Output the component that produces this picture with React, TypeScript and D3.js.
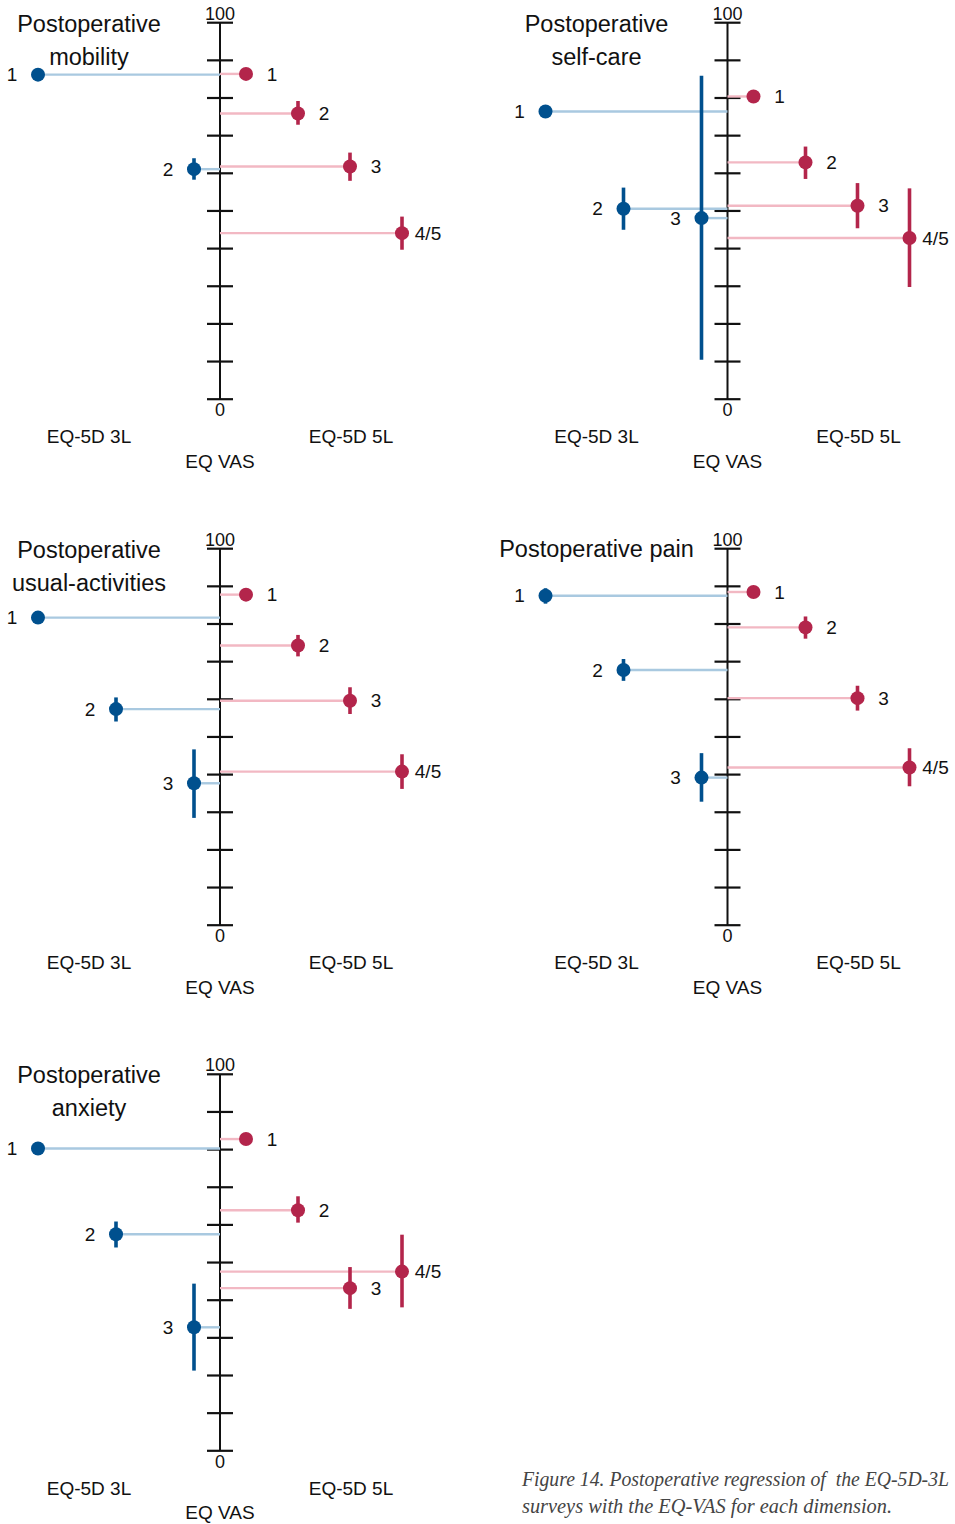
import * as d3 from 'd3'

// ── data ───────────────────────────────────────────────────────────────────
const TITLES = [
  ['Postoperative', 'mobility'],
  ['Postoperative', 'self-care'],
  ['Postoperative', 'usual-activities'],
  ['Postoperative pain'],
  ['Postoperative', 'anxiety'],
]

const LEVELS_3L_MOBILITY = ['1', '2']
const LEVELS_3L = ['1', '2', '3']
const LEVELS_5L = ['1', '2', '3', '4/5']

const MOBILITY_3L = [86.2, 61.1]
const MOBILITY_3L_LO = [85.0, 58.3]
const MOBILITY_3L_HI = [87.4, 64.0]
const MOBILITY_5L = [86.4, 75.9, 61.8, 44.1]
const MOBILITY_5L_LO = [85.2, 72.9, 58.0, 39.7]
const MOBILITY_5L_HI = [87.6, 79.2, 65.5, 48.5]

const SELFCARE_3L = [76.4, 50.6, 48.1]
const SELFCARE_3L_LO = [75.2, 45.0, 10.5]
const SELFCARE_3L_HI = [77.6, 56.2, 85.9]
const SELFCARE_5L = [80.4, 62.9, 51.4, 42.8]
const SELFCARE_5L_LO = [79.2, 58.5, 45.4, 29.8]
const SELFCARE_5L_HI = [81.6, 67.1, 57.4, 56.0]

const USUAL_3L = [81.7, 57.4, 37.7]
const USUAL_3L_LO = [80.5, 54.1, 28.5]
const USUAL_3L_HI = [82.9, 60.5, 46.7]
const USUAL_5L = [87.8, 74.3, 59.6, 40.8]
const USUAL_5L_LO = [86.6, 71.4, 56.1, 36.2]
const USUAL_5L_HI = [89.0, 77.1, 63.2, 45.4]

const PAIN_3L = [87.5, 67.8, 39.2]
const PAIN_3L_LO = [85.4, 64.9, 32.8]
const PAIN_3L_HI = [89.5, 70.7, 45.7]
const PAIN_5L = [88.5, 79.1, 60.3, 41.9]
const PAIN_5L_LO = [87.3, 76.1, 57.0, 36.9]
const PAIN_5L_HI = [89.7, 82.0, 63.6, 47.0]

const ANXIETY_3L = [80.3, 57.5, 32.8]
const ANXIETY_3L_LO = [79.1, 54.0, 21.3]
const ANXIETY_3L_HI = [81.5, 60.9, 44.4]
const ANXIETY_5L = [82.8, 63.9, 43.2, 47.6]
const ANXIETY_5L_LO = [81.6, 60.6, 37.7, 38.1]
const ANXIETY_5L_HI = [84.0, 67.6, 48.8, 57.4]

const VAS_TICKS = d3.range(0, 101, 10)
const CAPTION = ['Figure 14. Postoperative regression of  the EQ-5D-3L', 'surveys with the EQ-VAS for each dimension.']

interface Series { levels: string[]; mean: number[]; lo: number[]; hi: number[] }
interface Panel { title: string[]; s3: Series; s5: Series }

const PANELS: Panel[] = [
  { title: TITLES[0],
    s3: { levels: LEVELS_3L_MOBILITY, mean: MOBILITY_3L, lo: MOBILITY_3L_LO, hi: MOBILITY_3L_HI },
    s5: { levels: LEVELS_5L, mean: MOBILITY_5L, lo: MOBILITY_5L_LO, hi: MOBILITY_5L_HI } },
  { title: TITLES[1],
    s3: { levels: LEVELS_3L, mean: SELFCARE_3L, lo: SELFCARE_3L_LO, hi: SELFCARE_3L_HI },
    s5: { levels: LEVELS_5L, mean: SELFCARE_5L, lo: SELFCARE_5L_LO, hi: SELFCARE_5L_HI } },
  { title: TITLES[2],
    s3: { levels: LEVELS_3L, mean: USUAL_3L, lo: USUAL_3L_LO, hi: USUAL_3L_HI },
    s5: { levels: LEVELS_5L, mean: USUAL_5L, lo: USUAL_5L_LO, hi: USUAL_5L_HI } },
  { title: TITLES[3],
    s3: { levels: LEVELS_3L, mean: PAIN_3L, lo: PAIN_3L_LO, hi: PAIN_3L_HI },
    s5: { levels: LEVELS_5L, mean: PAIN_5L, lo: PAIN_5L_LO, hi: PAIN_5L_HI } },
  { title: TITLES[4],
    s3: { levels: LEVELS_3L, mean: ANXIETY_3L, lo: ANXIETY_3L_LO, hi: ANXIETY_3L_HI },
    s5: { levels: LEVELS_5L, mean: ANXIETY_5L, lo: ANXIETY_5L_LO, hi: ANXIETY_5L_HI } },
]

// ── layout ────────────────────────────────────────────────────────────────
const W = 955
const H = 1524
const AXIS_X = [220, 727.5]
const ROW_TOP = [22.7, 548.7, 1074.3]
const AXIS_H = 376.5
const INNER = 26
const OUTER = 182
const TICK = 13
const R = 7

const BLUE = '#00508e'
const BLUE_L = '#a9c9e0'
const RED = '#b3254b'
const RED_L = '#f2b8c3'
const INK = '#111'
const FONT = '"Liberation Sans", Arial, sans-serif'

function Side({ s, ax, y, left }: { s: Series; ax: number; y: d3.ScaleLinear<number, number>; left: boolean }) {
  const x = d3.scalePoint<string>()
    .domain(s.levels)
    .range(left ? [ax - OUTER, ax - INNER] : [ax + INNER, ax + OUTER])
  const dark = left ? BLUE : RED
  const light = left ? BLUE_L : RED_L
  return (
    <g>
      {s.levels.map((l, i) => (
        <line key={'c' + l} x1={x(l)} x2={ax} y1={y(s.mean[i])} y2={y(s.mean[i])} stroke={light} strokeWidth={2.4} />
      ))}
      {s.levels.map((l, i) => (
        <line key={'e' + l} x1={x(l)} x2={x(l)} y1={y(s.lo[i])} y2={y(s.hi[i])} stroke={dark} strokeWidth={3.6} />
      ))}
      {s.levels.map((l, i) => (
        <circle key={'p' + l} cx={x(l)} cy={y(s.mean[i])} r={R} fill={dark} />
      ))}
      {s.levels.map((l, i) => (
        <text key={'t' + l} x={x(l)! + (left ? -26 : 26)} y={y(s.mean[i])} dy="0.35em"
          textAnchor="middle" fontSize={19} fill={INK}>{l}</text>
      ))}
    </g>
  )
}

function VasPanel({ p, ax, top }: { p: Panel; ax: number; top: number }) {
  const bottom = top + AXIS_H
  const y = d3.scaleLinear().domain([0, 100]).range([bottom, top])
  const tx = ax - 131
  return (
    <g fontFamily={FONT}>
      {p.title.map((t, i) => (
        <text key={t} x={tx} y={top + (p.title.length === 1 ? 8 : 9 + i * 33)} textAnchor="middle" fontSize={23.5} fill={INK}>{t}</text>
      ))}
      <line x1={ax} x2={ax} y1={y(100)} y2={y(0)} stroke={INK} strokeWidth={2} />
      {VAS_TICKS.map(t => (
        <line key={t} x1={ax - TICK} x2={ax + TICK} y1={y(t)} y2={y(t)} stroke={INK} strokeWidth={2.2} />
      ))}
      <text x={ax} y={y(100) - 3} textAnchor="middle" fontSize={18} fill={INK}>100</text>
      <text x={ax} y={y(0) + 17} textAnchor="middle" fontSize={18} fill={INK}>0</text>
      <Side s={p.s3} ax={ax} y={y} left />
      <Side s={p.s5} ax={ax} y={y} left={false} />
      <text x={ax - 131} y={bottom + 44} textAnchor="middle" fontSize={19} fill={INK}>EQ-5D 3L</text>
      <text x={ax + 131} y={bottom + 44} textAnchor="middle" fontSize={19} fill={INK}>EQ-5D 5L</text>
      <text x={ax} y={bottom + 68.5} textAnchor="middle" fontSize={19} fill={INK}>EQ VAS</text>
    </g>
  )
}

export default function App() {
  return (
    <svg width={W} height={H} viewBox={`0 0 ${W} ${H}`}
      style={{ position: 'absolute', left: 0, top: 0, background: '#fff' }}>
      {PANELS.map((p, i) => (
        <VasPanel key={i} p={p} ax={AXIS_X[i % 2]} top={ROW_TOP[Math.floor(i / 2)]} />
      ))}
      <g fontFamily='"Liberation Serif", "Times New Roman", serif' fontStyle="italic" fontSize={20} fill="#444">
        <text x={522} y={1486} textLength={427} lengthAdjust="spacingAndGlyphs" style={{ whiteSpace: 'pre' }}>{CAPTION[0]}</text>
        <text x={522} y={1513} textLength={370} lengthAdjust="spacingAndGlyphs">{CAPTION[1]}</text>
      </g>
    </svg>
  )
}
